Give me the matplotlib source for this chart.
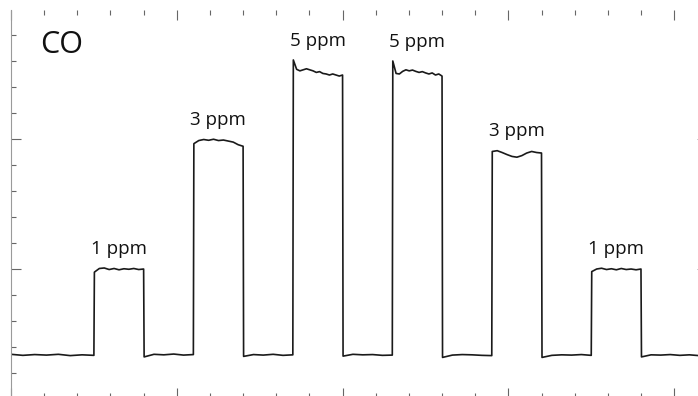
"""
CO sensor response to stepped gas pulses (1-3-5-5-3-1 ppm).
"""
import numpy as np
import matplotlib
matplotlib.use("Agg")
import matplotlib.pyplot as plt
from matplotlib.ticker import MultipleLocator

# ---------------------------------------------------------------------------
# Data (time in s, response in arbitrary units)
# ---------------------------------------------------------------------------
gas = "CO"
pulse_labels = ["1 ppm", "3 ppm", "5 ppm", "5 ppm", "3 ppm", "1 ppm"]
pulse_onsets = [500, 1100, 1700, 2300, 2900, 3500]
pulse_length = 300
t_end = 4150

# response during each gas pulse, read left to right across the plateau
plateau_1 = [0.488, 0.502, 0.504, 0.498, 0.502, 0.497, 0.501, 0.499, 0.502, 0.498, 0.500]
plateau_2 = [0.982, 0.994, 0.998, 0.995, 0.999, 0.994, 0.996, 0.992, 0.988, 0.978, 0.972]
plateau_3 = [1.304, 1.268, 1.262, 1.266, 1.270, 1.266, 1.262, 1.256, 1.259, 1.252,
             1.250, 1.246, 1.250, 1.246, 1.242, 1.246]
plateau_4 = [1.300, 1.252, 1.250, 1.260, 1.266, 1.262, 1.265, 1.260, 1.256, 1.259,
             1.254, 1.250, 1.254, 1.246, 1.250, 1.242]
plateau_5 = [0.952, 0.955, 0.948, 0.940, 0.933, 0.930, 0.936, 0.946, 0.952, 0.948, 0.946]
plateau_6 = [0.490, 0.500, 0.503, 0.498, 0.501, 0.497, 0.502, 0.498, 0.500, 0.497, 0.500]
plateaus = [plateau_1, plateau_2, plateau_3, plateau_4, plateau_5, plateau_6]

# baseline between pulses (7 gaps incl. before first and after last)
baseline_0 = [0.172, 0.168, 0.171, 0.169, 0.172, 0.167, 0.170, 0.168]
baseline_1 = [0.162, 0.172, 0.170, 0.173, 0.169, 0.171]
baseline_2 = [0.164, 0.171, 0.169, 0.172, 0.168, 0.170]
baseline_3 = [0.165, 0.172, 0.170, 0.171, 0.168, 0.169]
baseline_4 = [0.160, 0.169, 0.171, 0.170, 0.168, 0.167]
baseline_5 = [0.160, 0.168, 0.170, 0.169, 0.171, 0.168]
baseline_6 = [0.162, 0.170, 0.169, 0.171, 0.168, 0.170, 0.167]
baselines = [baseline_0, baseline_1, baseline_2, baseline_3,
             baseline_4, baseline_5, baseline_6]


def build_trace():
    t_parts, y_parts = [], []
    start = 0.0
    for onset, plateau, base in zip(pulse_onsets, plateaus, baselines[:-1]):
        t_parts.append(np.linspace(start, onset, len(base)))
        y_parts.append(np.asarray(base))
        t_parts.append(np.linspace(onset + 3, onset + pulse_length, len(plateau)))
        y_parts.append(np.asarray(plateau))
        start = onset + pulse_length + 3
    t_parts.append(np.linspace(start, t_end, len(baselines[-1])))
    y_parts.append(np.asarray(baselines[-1]))
    return np.concatenate(t_parts), np.concatenate(y_parts)


t, y = build_trace()

plt.rcParams["font.family"] = ["Open Sans", "DejaVu Sans"]

W, H = 698, 396
fig = plt.figure(figsize=(W / 100, H / 100), dpi=100)
ax = fig.add_axes([11 / W, -2 / H, 688 / W, 388 / H])

ax.plot(t, y, color="#1a1a1a", lw=1.2)

ax.set_xlim(0, t_end)
ax.set_ylim(0.004, 1.496)

for side in ("top", "bottom", "right"):
    ax.spines[side].set_visible(False)
ax.spines["left"].set_color("#9a9a9a")
ax.spines["left"].set_linewidth(0.8)

ax.xaxis.set_major_locator(MultipleLocator(1000))
ax.xaxis.set_minor_locator(MultipleLocator(200))
ax.yaxis.set_major_locator(MultipleLocator(0.5))
ax.yaxis.set_minor_locator(MultipleLocator(0.1))
ax.tick_params(which="both", direction="in", top=True, bottom=True,
               left=True, right=False, labelbottom=False, labelleft=False,
               color="#666666", width=0.8)
ax.tick_params(which="major", length=7)
ax.tick_params(which="minor", length=3.6)

# tiny marks on the right edge at the major levels
for level in (0.5, 1.0):
    ax.plot([t_end - 12, t_end], [level, level], color="#c0c0c0", lw=0.6,
            clip_on=False)

ax.text(0.042, 0.91, gas, transform=ax.transAxes, fontsize=22,
        ha="left", va="center", color="#111111")

for onset, plateau, label in zip(pulse_onsets, plateaus, pulse_labels):
    ax.annotate(label, (onset + pulse_length / 2, max(plateau)),
                xytext=(0, 7.5), textcoords="offset points",
                ha="center", va="bottom", fontsize=13.5, color="#111111")

fig.savefig("out.png", dpi=100)
